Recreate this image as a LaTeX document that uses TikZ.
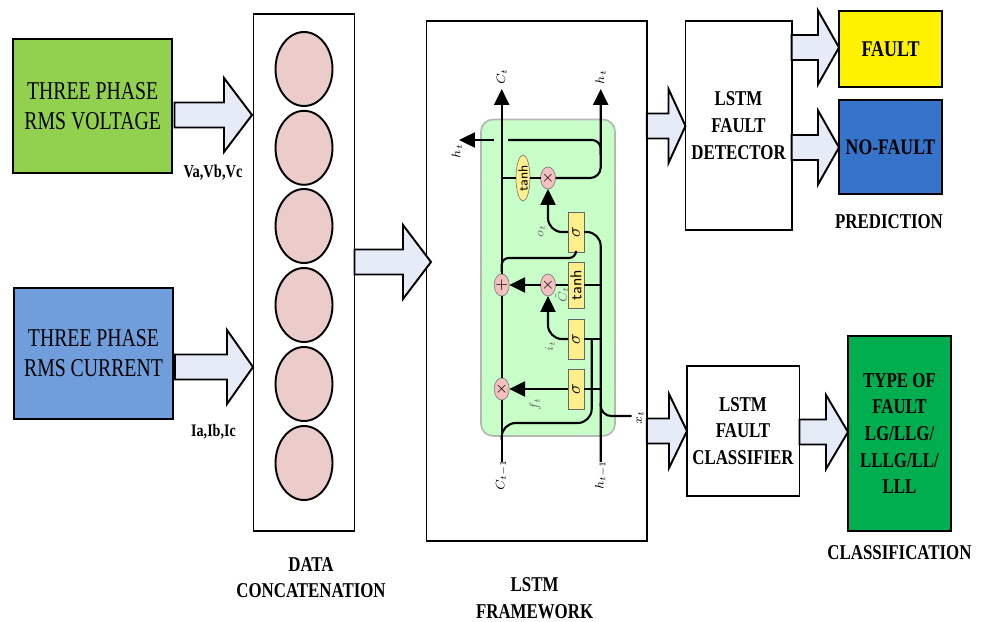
\documentclass[tikz,border=0pt]{standalone}
\usepackage{fontspec}
\setmainfont[FakeStretch=.8]{Liberation Serif}
\newfontfamily\plainserif[FakeStretch=.77]{Liberation Serif}
\usetikzlibrary{calc,arrows.meta,shapes.geometric}

\definecolor{voltgreen}{HTML}{92D050}
\definecolor{currblue}{HTML}{709DDB}
\definecolor{nofaultblue}{HTML}{3674CB}
\definecolor{typegreen}{HTML}{00AE50}
\definecolor{concatpink}{HTML}{ECCCCA}
\definecolor{arrowfill}{HTML}{E6ECF7}
\definecolor{cellgreen}{HTML}{C8FFC8}
\definecolor{celledge}{HTML}{B4B8B4}
\definecolor{cellyellow}{HTML}{FFEF8C}
\definecolor{cellpink}{HTML}{F6BFC0}

\tikzset{
	blockbox/.style = {shape = rectangle, draw = black, line width = 1.1pt, outer sep = 0pt, align = center},
	plainfont/.style = {font = \fontsize{14.6}{17}\plainserif},
	boldfont/.style = {font = \fontsize{12}{15.2}\selectfont\bfseries},
	bigarrow/.style = {draw = black, line width = 1.1pt, fill = arrowfill, line join = miter},
	cellline/.style = {draw = black, line width = 1.2pt},
	cellarrow/.style = {cellline, -{Triangle[length = 9pt, width = 8.5pt]}},
	cellgate/.style = {shape = rectangle, draw = black!60, fill = cellyellow, minimum height = .32cm, outer sep = 0pt, inner sep = 0pt},
	cellop/.style = {shape = ellipse, draw = black!50, fill = cellpink, minimum width = .44cm, minimum height = .3cm, outer sep = 0pt, inner sep = 0pt, font = \fontsize{7.5}{7.5}\selectfont\sffamily},
	celllabel/.style = {rotate = 90, inner sep = 0pt, font = \fontsize{7}{7}\selectfont}
}

\newcommand{\fatarrow}[3]{
	\draw[bigarrow] let \p1 = (#1), \p2 = (#2) in
		(\x1,\y2+.25cm) -- (\x2-#3,\y2+.25cm) -- (\x2-#3,\y2+.74cm) -- (\x2,\y2)
		-- (\x2-#3,\y2-.74cm) -- (\x2-#3,\y2-.25cm) -- (\x1,\y2-.25cm) -- cycle;
}

\begin{document}
\begin{tikzpicture}[x = .02cm, y = -.02cm]
\useasboundingbox (0,0) rectangle (984,622);

% Input boxes
\begin{scope}[every node/.style = {blockbox, plainfont}]
	\node[fill = voltgreen, minimum width = 3.19cm, minimum height = 2.67cm] (volt) at (92.7,106) {THREE PHASE\\RMS VOLTAGE};
	\node[fill = currblue, minimum width = 3.18cm, minimum height = 2.62cm] (curr) at (93.5,353.5) {THREE PHASE\\RMS CURRENT};
\end{scope}

% Concatenation column
\node[blockbox, minimum width = 2.02cm, minimum height = 10.34cm] (concat) at (304,272.5) {};
\foreach \i/\y in {1/69, 2/147.8, 3/226, 4/305, 5/384, 6/463}
	\node[shape = ellipse, draw = black, line width = 1.1pt, fill = concatpink, minimum width = 1.14cm, minimum height = 1.48cm] (input\i) at (304,\y) {};

% Output boxes
\begin{scope}[every node/.style = {blockbox, boldfont}]
	\node[minimum width = 4.41cm, minimum height = 10.4cm] (frame) at (536.7,281) {};
	\node[minimum width = 2.1cm, minimum height = 4.18cm] (detector) at (738.5,125.5) {LSTM\\FAULT\\DETECTOR};
	\node[minimum width = 2.24cm, minimum height = 2.6cm] (classifier) at (743,431) {LSTM\\FAULT\\CLASSIFIER};
	\node[fill = yellow, minimum width = 2.06cm, minimum height = 1.52cm, font = \fontsize{12.8}{15}\selectfont\bfseries] (fault) at (890.5,49) {FAULT};
	\node[fill = nofaultblue, minimum width = 2.06cm, minimum height = 1.89cm, font = \fontsize{12.6}{15}\selectfont\bfseries] (nofault) at (890.5,147.2) {NO-FAULT};
	\node[fill = typegreen, minimum width = 2.06cm, minimum height = 3.9cm] (faulttype) at (899.5,433.5) {TYPE OF\\FAULT\\LG/LLG/\\LLLG/LL/\\LLL};
\end{scope}

% Captions
\begin{scope}[every node/.style = {boldfont, align = center, inner sep = 0pt}]
	\node[font = \fontsize{10.3}{12}\selectfont\bfseries] (voltlabel) at (213,173) {Va,Vb,Vc};
	\node[font = \fontsize{10}{12}\selectfont\bfseries] (currlabel) at (213.5,432) {Ia,Ib,Ic};
	\node (concatlabel) at (311,577.5) {DATA\\CONCATENATION};
	\node (framelabel) at (534.6,598.5) {LSTM\\FRAMEWORK};
	\node (predlabel) at (889,222) {PREDICTION};
	\node (classlabel) at (899.5,553) {CLASSIFICATION};
\end{scope}

% Ends of the block arrows
\coordinate (voltout) at (174.5,106);
\coordinate (currout) at (175,353);
\coordinate (tipvolt) at (252,115);
\coordinate (tipcurr) at (253,367);
\coordinate (tipframe) at (431,262);
\coordinate (tipdet) at (685.5,126);
\coordinate (tipfault) at (839,47.5);
\coordinate (tipnofault) at (839,147.5);
\coordinate (tipclass) at (687,431);
\coordinate (tiptype) at (848,432);

\fatarrow{voltout}{tipvolt}{.56cm}
\fatarrow{currout}{tipcurr}{.52cm}
\fatarrow{concat.east}{tipframe}{.56cm}
\fatarrow{frame.east}{tipdet}{.34cm}
\fatarrow{detector.east}{tipfault}{.42cm}
\fatarrow{detector.east}{tipnofault}{.42cm}
\fatarrow{frame.east}{tipclass}{.36cm}
\fatarrow{classifier.east}{tiptype}{.44cm}

% LSTM cell
\node[shape = rectangle, rounded corners = .24cm, draw = celledge, line width = 1pt, fill = cellgreen, minimum width = 2.68cm, minimum height = 6.33cm] (cell) at (548,277.7) {};

\coordinate (ctop) at (501.7,89);
\coordinate (cbot) at (501.7,462);
\coordinate (htop) at (600.7,89);
\coordinate (hbot) at (600.7,462);
\coordinate (hjoin) at (600.7,155);
\coordinate (gapright) at (508,140);
\coordinate (gapleft) at (494,140);
\coordinate (hout) at (459,140);
\coordinate (cjoina) at (501.7,178);
\coordinate (cjoinb) at (501.7,258);
\coordinate (cjoinc) at (501.7,272);
\coordinate (tapb) at (591.7,339);
\coordinate (cjoind) at (501.7,423);
\coordinate (cjoine) at (501.7,440);
\coordinate (htap) at (600.7,403);
\coordinate (xin) at (631.7,416);

\begin{scope}[every node/.append style = {rotate = 90}]
	\node[cellop, minimum width = .92cm, minimum height = .28cm, fill = cellyellow] (tanha) at (523,178) {tanh};
	\node[cellop] (mula) at (548,178) {};
	\node[cellop] (addb) at (501.7,285) {};
	\node[cellop] (mulb) at (548,285) {};
	\node[cellop] (mulc) at (501.7,389) {};
	\node[cellgate, minimum width = .8cm] (siga) at (576,232) {};
	\node[cellgate, minimum width = .92cm] (tanhb) at (576,285) {};
	\node[cellgate, minimum width = .8cm] (sigb) at (576,339) {};
	\node[cellgate, minimum width = .8cm] (sigc) at (576,389) {};
\end{scope}

% Paths in the cell
\draw[cellline] (cbot) -- (mulc);
\draw[cellline] (mulc) -- (addb);
\draw[cellarrow] (addb) -- (ctop);
\draw[cellline] (cjoina) -- (tanha);
\draw[cellline] (tanha) -- (mula);
\draw[cellarrow, rounded corners = 6pt] (mula) -| (htop);
\draw[cellline, rounded corners = 5pt] (gapright) -| (hjoin);
\draw[cellarrow] (gapleft) -- (hout);
\draw[cellarrow, rounded corners = 8pt] (siga) -| (mula);
\draw[cellline, rounded corners = 8pt] (siga) -| (hbot);
\draw[cellline, rounded corners = 4pt] (siga.west) |- (cjoinb) -- (cjoinc);
\draw[cellline] (tanhb) -- (tanhb -| hbot);
\draw[cellline] (tanhb) -- (mulb);
\draw[cellarrow] (mulb) -- (addb);
\draw[cellarrow, rounded corners = 8pt] (sigb) -| (mulb);
\draw[cellline] (sigb) -- (sigb -| hbot);
\draw[cellline, rounded corners = 8pt] (tapb) |- (cjoind) -- (cjoine);
\draw[cellarrow] (sigc) -- (mulc);
\draw[cellline] (sigc) -- (sigc -| hbot);
\draw[cellline, rounded corners = 6pt] (htap) |- (xin);

% Cell labels
\begin{scope}[every node/.style = {celllabel}]
	\node[font = \fontsize{9}{9}\selectfont] at (mula) {$\times$};
	\node[font = \fontsize{9}{9}\selectfont] at (addb) {$+$};
	\node[font = \fontsize{9}{9}\selectfont] at (mulb) {$\times$};
	\node[font = \fontsize{9}{9}\selectfont] at (mulc) {$\times$};
	\node[font = \fontsize{10}{10}\selectfont] at (siga) {$\sigma$};
	\node[font = \fontsize{9}{9}\selectfont\sffamily] at (tanhb) {tanh};
	\node[font = \fontsize{10}{10}\selectfont] at (sigb) {$\sigma$};
	\node[font = \fontsize{10}{10}\selectfont] at (sigc) {$\sigma$};
	\node (clabel) at (501.7,77) {$C_t$};
	\node (hlabel) at (600.7,77) {$h_t$};
	\node (outlabel) at (457,151) {$h_t$};
	\node[text = black!60] (olabel) at (541.7,231) {$o_t$};
	\node[text = black!60] (tildelabel) at (561.7,295) {$\tilde{C}_t$};
	\node[text = black!60] (ilabel) at (550,346) {$i_t$};
	\node[text = black!60] (flabel) at (535,404) {$f_t$};
	\node (xlabel) at (640,418) {$x_t$};
	\node (cprevlabel) at (501.7,475) {$C_{t-1}$};
	\node (hprevlabel) at (601,475) {$h_{t-1}$};
\end{scope}
\end{tikzpicture}
\end{document}
